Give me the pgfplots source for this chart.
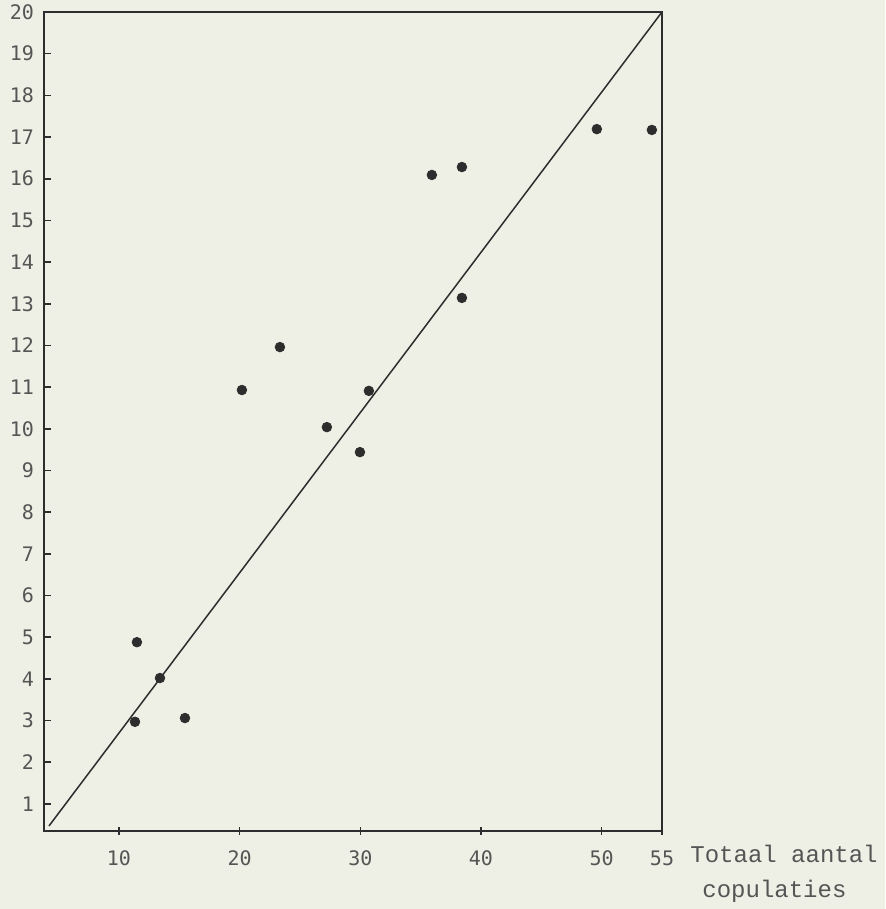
\documentclass[border=0pt]{standalone}
\usepackage{fontspec}
\setmainfont{Liberation Mono}
\newfontfamily\tickfont{DejaVu Sans Mono}
\usepackage{pgfplots}
\pgfplotsset{compat=1.18}
\definecolor{paper}{RGB}{238,240,229}
\definecolor{ink}{RGB}{45,45,45}
\definecolor{digits}{RGB}{85,85,85}

\begin{document}
\begin{tikzpicture}
\fill[paper] (-22pt,-39pt) rectangle (420.5pt,415.5pt);
\begin{axis}[
    at={(0,0)},
    anchor=south west,
    width=309pt,
    height=409.5pt,
    scale only axis,
    xmin=3.79, xmax=55,
    ymin=0.35, ymax=20,
    xtick={10,20,30,40,50,55},
    ytick={1,...,20},
    tick pos=left,
    xtick align=center,
    ytick align=inside,
    major tick length=3.5pt,
    axis line style={ink, line width=1.1pt},
    tick style={ink, line width=0.8pt},
    ticklabel style={font=\tickfont\fontsize{10}{11}\selectfont, text=digits},
    xticklabel style={yshift=-4.5pt},
    yticklabel style={xshift=-1.5pt},
    /pgf/number format/assume math mode=true,
    scaled ticks=false,
    clip=false,
]

% fitted line
\addplot[ink, line width=0.75pt] coordinates {(4.20,0.47) (55,20)};

% observations
\addplot[only marks, mark=*, mark size=2.4pt, color=ink] coordinates {
    (11.49,4.88)
    (11.33,2.97)
    (13.40,4.02)
    (15.47,3.06)
    (20.19,10.93)
    (23.34,11.96)
    (27.23,10.04)
    (29.97,9.44)
    (30.71,10.91)
    (35.93,16.09)
    (38.42,16.28)
    (38.42,13.14)
    (49.60,17.19)
    (54.16,17.17)
};

\end{axis}

\node[anchor=base west, inner sep=0pt, font=\fontsize{12}{14}\selectfont, text=digits] at (323pt,-15.5pt) {Totaal aantal};
\node[anchor=base west, inner sep=0pt, font=\fontsize{12}{14}\selectfont, text=digits] at (329pt,-33pt) {copulaties};

\pgfresetboundingbox
\path (-22pt,-39pt) rectangle (420.5pt,415.5pt);
\end{tikzpicture}
\end{document}
